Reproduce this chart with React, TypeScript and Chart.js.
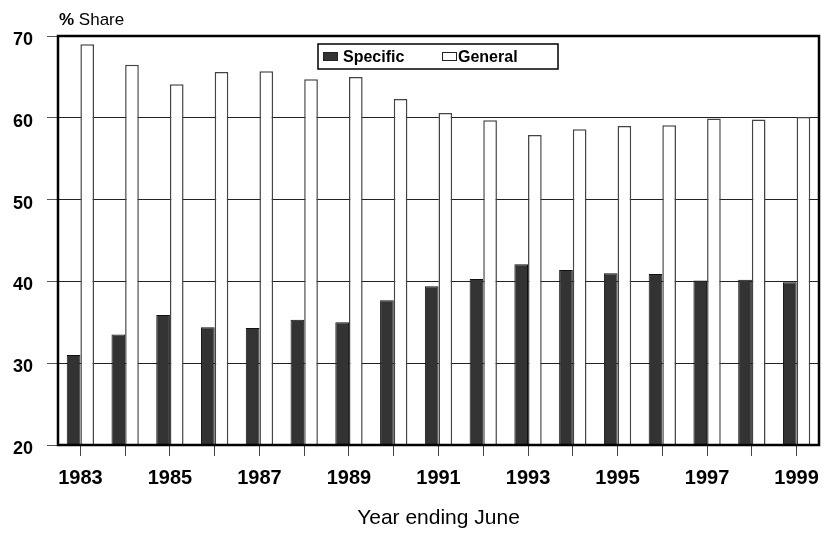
import { useEffect, useRef } from 'react';
import { Chart, registerables } from 'chart.js';
Chart.register(...registerables);

const years = ['1983', '1984', '1985', '1986', '1987', '1988', '1989', '1990', '1991', '1992', '1993', '1994', '1995', '1996', '1997', '1998', '1999'];
const specific = [31.0, 33.5, 35.9, 34.4, 34.3, 35.3, 35.0, 37.7, 39.4, 40.3, 42.1, 41.4, 41.0, 40.9, 40.1, 40.2, 39.9];
const general = [69.0, 66.5, 64.1, 65.6, 65.7, 64.7, 65.0, 62.3, 60.6, 59.7, 57.9, 58.6, 59.0, 59.1, 59.9, 59.8, 60.1];
const yMin = 20;
const yMax = 70;
const yStep = 10;
const yTitle = '% Share';
const xTitle = 'Year ending June';

const FONT = '"Liberation Sans", Arial, sans-serif';

const decor = {
  id: 'decor',
  afterDraw(chart: any) {
    const { ctx, chartArea: a } = chart;
    ctx.save();
    // plot border
    ctx.strokeStyle = '#000';
    ctx.lineWidth = 2.5;
    ctx.strokeRect(a.left, a.top, a.right - a.left, a.bottom - a.top);

    // legend box
    const bx = a.left + 260;
    const by = a.top + 8;
    const bw = 240;
    const bh = 25;
    ctx.fillStyle = '#fff';
    ctx.fillRect(bx, by, bw, bh);
    ctx.lineWidth = 1.5;
    ctx.strokeStyle = '#000';
    ctx.strokeRect(bx, by, bw, bh);
    const ds = chart.data.datasets;
    const items = [
      { x: bx + 5, gap: 20, ds: ds[0] },
      { x: bx + 124, gap: 16, ds: ds[1] },
    ];
    ctx.font = `bold 16px ${FONT}`;
    ctx.textBaseline = 'middle';
    ctx.textAlign = 'left';
    for (const it of items) {
      ctx.fillStyle = it.ds.backgroundColor;
      ctx.fillRect(it.x, by + 8, 14, 8);
      ctx.lineWidth = 1;
      ctx.strokeStyle = '#222';
      ctx.strokeRect(it.x + 0.5, by + 8.5, 14, 8);
      ctx.fillStyle = '#000';
      ctx.fillText(it.ds.label, it.x + it.gap, by + 14);
    }

    // y title
    const parts = yTitle.split(' ');
    ctx.font = `bold 17px ${FONT}`;
    ctx.fillStyle = '#000';
    ctx.textBaseline = 'middle';
    ctx.fillText(parts[0], a.left + 1, 20);
    const w = ctx.measureText(parts[0] + ' ').width;
    ctx.font = `17px ${FONT}`;
    ctx.fillText(parts.slice(1).join(' '), a.left + 1 + w, 20);
    ctx.restore();
  },
};

export default function App() {
  const ref = useRef<HTMLCanvasElement>(null);
  useEffect(() => {
    document.body.style.margin = '0';
    const chart = new Chart(ref.current!, {
      type: 'bar',
      data: {
        labels: years,
        datasets: [
          {
            label: 'Specific',
            data: specific,
            backgroundColor: '#333333',
            borderColor: '#111111',
            borderWidth: 1,
            categoryPercentage: 0.61,
            barPercentage: 1,
          },
          {
            label: 'General',
            data: general,
            backgroundColor: '#ffffff',
            borderColor: '#444444',
            borderWidth: 1.5,
            categoryPercentage: 0.61,
            barPercentage: 1,
          },
        ],
      },
      options: {
        animation: false,
        responsive: true,
        maintainAspectRatio: false,
        layout: { padding: { left: 0, top: 36, right: 3, bottom: 0 } },
        plugins: { legend: { display: false }, tooltip: { enabled: false } },
        scales: {
          x: {
            offset: true,
            grid: {
              offset: false,
              drawOnChartArea: false,
              drawTicks: true,
              tickLength: 11,
              tickColor: '#444',
              tickWidth: 1,
            },
            border: { display: false },
            ticks: {
              autoSkip: false,
              maxRotation: 0,
              padding: 10,
              color: '#000',
              font: { family: FONT, size: 20, weight: 'bold' },
              callback: (_v: any, i: number) => (i % 2 === 0 ? years[i] : ''),
            },
            title: {
              display: true,
              text: xTitle,
              color: '#000',
              font: { family: FONT, size: 21 },
              padding: { top: 0, bottom: 2 },
            },
            afterFit: (s: any) => {
              s.height = 88;
              s.paddingLeft = 0;
              s.paddingRight = 0;
            },
          },
          y: {
            min: yMin,
            max: yMax,
            grid: {
              color: '#222',
              lineWidth: 1,
              borderDash: [4, 3],
              tickBorderDash: [],
              tickColor: '#555',
              tickLength: 11,
            },
            border: { display: false },
            ticks: {
              stepSize: yStep,
              padding: 14,
              labelOffset: 4,
              color: '#000',
              font: { family: FONT, size: 18, weight: 'bold' },
            },
            afterFit: (s: any) => {
              s.width = 58;
              s.paddingTop = 0;
              s.paddingBottom = 0;
            },
          },
        },
      },
      plugins: [decor],
    });
    return () => chart.destroy();
  }, []);
  return (
    <div style={{ width: 822, height: 533, position: 'relative' }}>
      <canvas ref={ref} />
    </div>
  );
}
